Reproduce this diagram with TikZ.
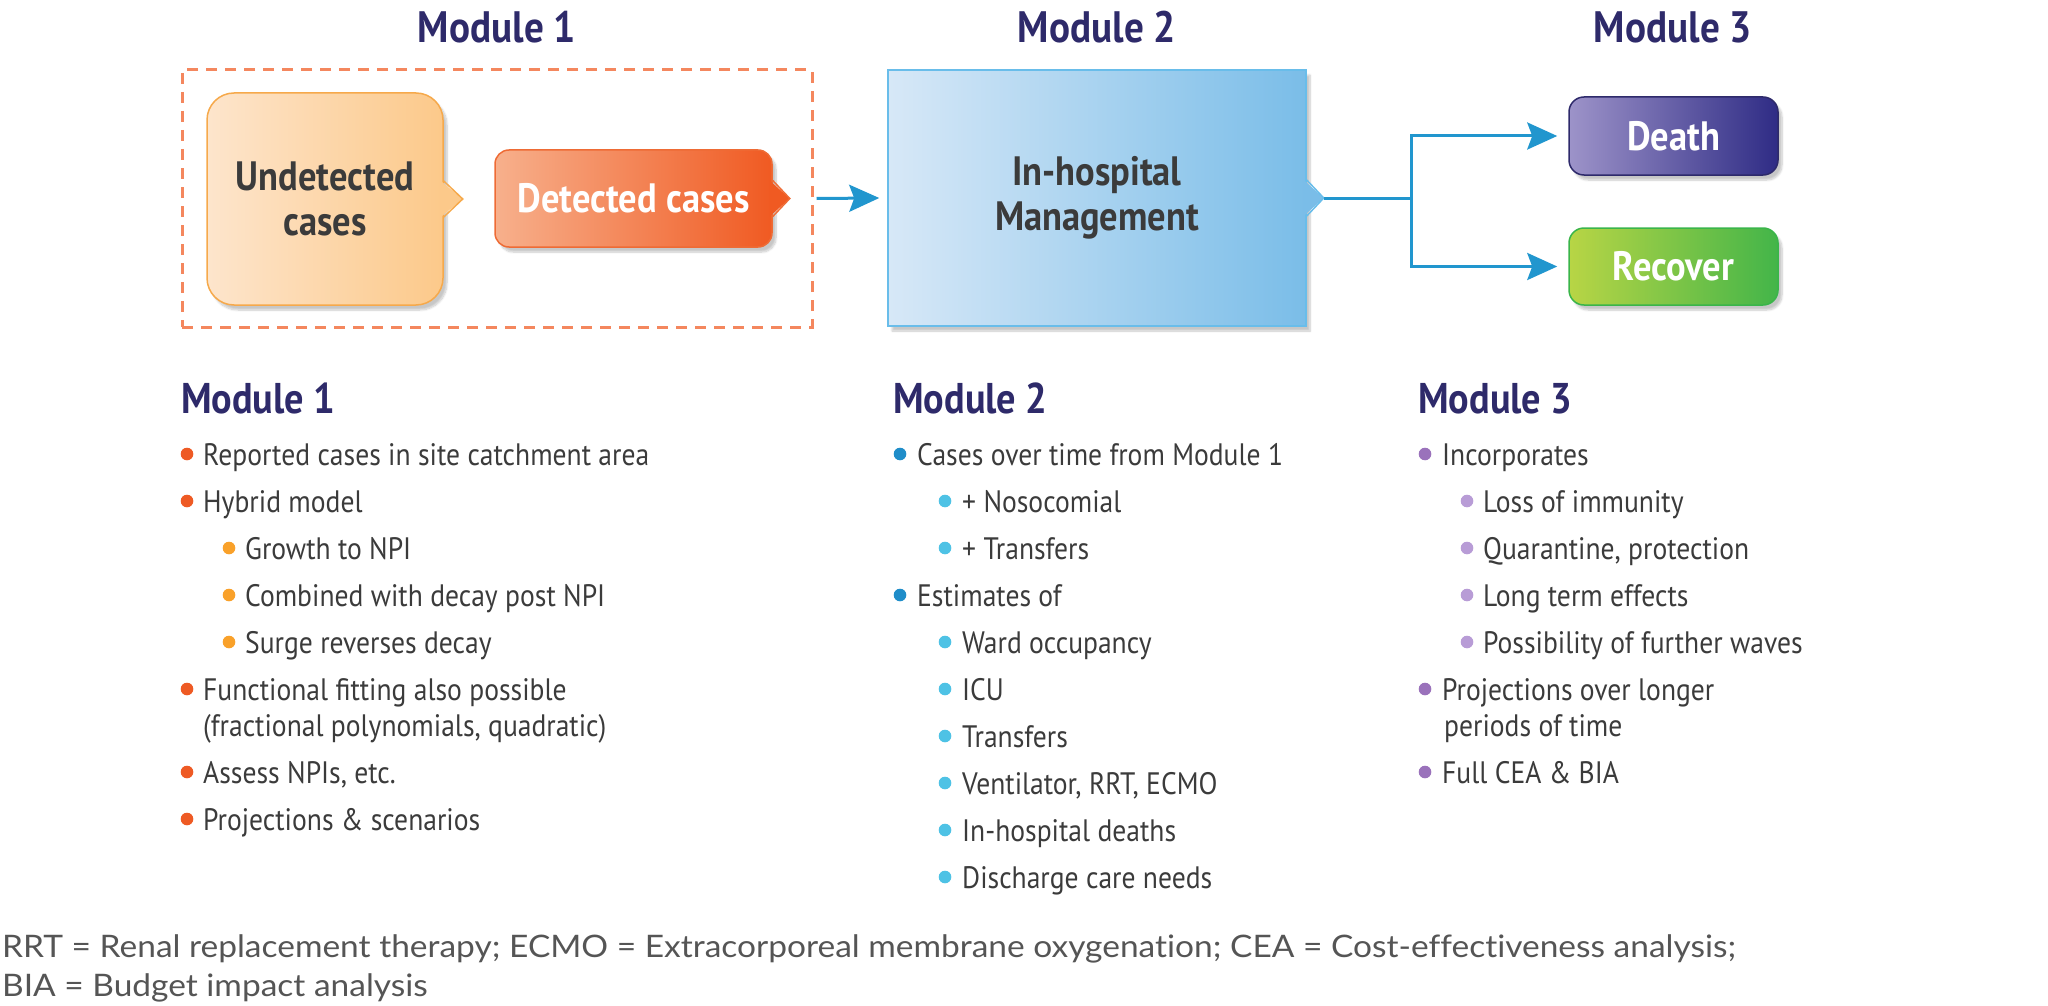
\documentclass[tikz,border=0pt]{standalone}
\usepackage{fontspec}
\setmainfont{PT Sans}[FakeStretch=0.89]
\newfontfamily\footfont{Lato}[FakeStretch=1.08, Ligatures=NoCommon]
\usetikzlibrary{arrows.meta,shadows.blur}

\definecolor{titlecol}{HTML}{2E2A6A}
\definecolor{txtcol}{HTML}{3B3B3B}
\definecolor{footcol}{HTML}{555555}
\definecolor{framecol}{HTML}{F4875E}
\definecolor{undL}{HTML}{FDE5CC}
\definecolor{undR}{HTML}{FCC98A}
\definecolor{undB}{HTML}{F6A94B}
\definecolor{detL}{HTML}{F7B08C}
\definecolor{detR}{HTML}{F05A22}
\definecolor{detB}{HTML}{EE6B35}
\definecolor{hosL}{HTML}{D7E8F7}
\definecolor{hosR}{HTML}{7ABDE8}
\definecolor{hosB}{HTML}{69BDEA}
\definecolor{arrcol}{HTML}{2196CE}
\definecolor{deaL}{HTML}{9D93C9}
\definecolor{deaR}{HTML}{2F2C85}
\definecolor{deaB}{HTML}{2E2A6B}
\definecolor{recL}{HTML}{B8D545}
\definecolor{recR}{HTML}{43B549}
\definecolor{recB}{HTML}{3AB54A}
\definecolor{mOneA}{HTML}{EE5A24}
\definecolor{mOneB}{HTML}{F9A12A}
\definecolor{mTwoA}{HTML}{1F8DC9}
\definecolor{mTwoB}{HTML}{4EC2E5}
\definecolor{mThrA}{HTML}{9A72BB}
\definecolor{mThrB}{HTML}{B89CD6}

\newcommand\bitem[6]{%
  \fill[#5] (#2,#4-11) circle[radius=6.3];
  \node[itemtxt] (#1) at (#3,#4) {#6};}

\begin{document}
\begin{tikzpicture}[x=1pt,y=-1pt,
  toptitle/.style={font=\fontsize{44}{44}\selectfont\bfseries, text=titlecol, anchor=base, inner sep=0},
  heading/.style={font=\fontsize{43}{43}\selectfont\bfseries, text=titlecol, anchor=base west, inner sep=0},
  itemtxt/.style={font=\fontsize{31}{37}\selectfont, text=txtcol, anchor=base west, inner sep=0},
  boxtxt/.style={font=\fontsize{41}{45}\selectfont\bfseries, align=center, inner sep=0},
  shad/.style={blur shadow={shadow xshift=4pt, shadow yshift=-5pt, shadow blur steps=8, shadow opacity=22}},
  conn/.style={draw=arrcol, line width=3pt},
  arr/.style={conn, -{Stealth[length=30pt,width=27pt,inset=5pt]}}
]
\useasboundingbox (0,0) rectangle (2048,1006);

% top titles
\node[toptitle] (t1) at (497,43) {Module 1};
\node[toptitle] (t2) at (1097,43) {Module 2};
\node[toptitle] (t3) at (1673,43) {Module 3};

% dashed frame
\node[draw=framecol, line width=3pt, dash pattern=on 11pt off 8pt,
      minimum width=630pt, minimum height=257pt, inner sep=0] (frame) at (497,198.5) {};

% undetected
\node[shad, left color=undL, right color=undR, draw=undB, line width=1.5pt,
      rounded corners=27pt, minimum width=236pt, minimum height=212pt,
      boxtxt, text=txtcol] (und) at (325,199) {Undetected\\cases};
\fill[undR] ([shift={(-3,-18)}]und.east) -- ([shift={(19,0)}]und.east) -- ([shift={(-3,18)}]und.east) -- cycle;
\draw[undB, line width=1.5pt] ([shift={(0,-18)}]und.east) -- ([shift={(19,0)}]und.east) -- ([shift={(0,18)}]und.east);

% detected
\node[shad, left color=detL, right color=detR, draw=detB, line width=1.5pt,
      rounded corners=14pt, minimum width=277pt, minimum height=97pt,
      boxtxt, text=white] (det) at (633.5,198.5) {Detected cases};
\fill[detR] ([shift={(-3,-18)}]det.east) -- ([shift={(17,0)}]det.east) -- ([shift={(-3,18)}]det.east) -- cycle;
\draw[detB, line width=1.5pt] ([shift={(0,-18)}]det.east) -- ([shift={(17,0)}]det.east) -- ([shift={(0,18)}]det.east);

% hospital
\node[shad, left color=hosL, right color=hosR, draw=hosB, line width=1.5pt,
      minimum width=418pt, minimum height=256pt,
      boxtxt, text=txtcol] (hosp) at (1097,198) {In-hospital\\Management};
\fill[hosR] ([shift={(-3,-18)}]hosp.east) -- ([shift={(17,0)}]hosp.east) -- ([shift={(-3,18)}]hosp.east) -- cycle;
\draw[hosB, line width=1.5pt] ([shift={(0,-18)}]hosp.east) -- ([shift={(17,0)}]hosp.east) -- ([shift={(0,18)}]hosp.east);
\coordinate (hosptip) at ([xshift=17pt]hosp.east);

% outcome boxes
\node[shad, left color=deaL, right color=deaR, draw=deaB, line width=1.5pt,
      rounded corners=15pt, minimum width=209pt, minimum height=78pt,
      boxtxt, text=white] (death) at (1673.5,136) {Death};
\node[shad, left color=recL, right color=recR, draw=recB, line width=1.5pt,
      rounded corners=15pt, minimum width=209pt, minimum height=77pt,
      boxtxt, text=white] (recov) at (1673.5,266.5) {Recover};

% connectors
\draw[arr] ([xshift=3pt]frame.east) -- ([xshift=-8pt]hosp.west);
\coordinate (jn) at (1411,198);
\draw[conn] (hosptip) -- (jn);
\draw[arr] (jn) |- ([xshift=-11pt]death.west);
\draw[arr] (jn) |- ([xshift=-11pt]recov.west);

% Module 1 list
\node[heading] (h1) at (181,413) {Module 1};
\bitem{a1}{187}{203}{465}{mOneA}{Reported cases in site catchment area}
\bitem{a2}{187}{203}{512}{mOneA}{Hybrid model}
\bitem{a3}{229}{245}{559}{mOneB}{Growth to NPI}
\bitem{a4}{229}{245}{606}{mOneB}{Combined with decay post NPI}
\bitem{a5}{229}{245}{653}{mOneB}{Surge reverses decay}
\bitem{a6}{187}{203}{700}{mOneA}{Functional fitting also possible}
\node[itemtxt] (a6b) at (203,736) {(fractional polynomials, quadratic)};
\bitem{a7}{187}{203}{783}{mOneA}{Assess NPIs, etc.}
\bitem{a8}{187}{203}{830}{mOneA}{Projections \& scenarios}

% Module 2 list
\node[heading] (h2) at (893,413) {Module 2};
\bitem{b1}{900}{917}{465}{mTwoA}{Cases over time from Module 1}
\bitem{b2}{945}{962}{512}{mTwoB}{+ Nosocomial}
\bitem{b3}{945}{962}{559}{mTwoB}{+ Transfers}
\bitem{b4}{900}{917}{606}{mTwoA}{Estimates of}
\bitem{b5}{945}{962}{653}{mTwoB}{Ward occupancy}
\bitem{b6}{945}{962}{700}{mTwoB}{ICU}
\bitem{b7}{945}{962}{747}{mTwoB}{Transfers}
\bitem{b8}{945}{962}{794}{mTwoB}{Ventilator, RRT, ECMO}
\bitem{b9}{945}{962}{841}{mTwoB}{In-hospital deaths}
\bitem{b10}{945}{962}{888}{mTwoB}{Discharge care needs}

% Module 3 list
\node[heading] (h3) at (1418,413) {Module 3};
\bitem{c1}{1425}{1442}{465}{mThrA}{Incorporates}
\bitem{c2}{1467}{1483}{512}{mThrB}{Loss of immunity}
\bitem{c3}{1467}{1483}{559}{mThrB}{Quarantine, protection}
\bitem{c4}{1467}{1483}{606}{mThrB}{Long term effects}
\bitem{c5}{1467}{1483}{653}{mThrB}{Possibility of further waves}
\bitem{c6}{1425}{1442}{700}{mThrA}{Projections over longer}
\node[itemtxt] (c6b) at (1444,736) {periods of time};
\bitem{c7}{1425}{1442}{783}{mThrA}{Full CEA \& BIA}

% footnote
\node[font=\footfont\fontsize{31}{37}\selectfont, text=footcol, anchor=base west, inner sep=0] (fn1) at (2,957)
  {RRT = Renal replacement therapy; ECMO = Extracorporeal membrane oxygenation; CEA = Cost-effectiveness analysis;};
\node[font=\footfont\fontsize{31}{37}\selectfont, text=footcol, anchor=base west, inner sep=0] (fn2) at (2,996)
  {BIA = Budget impact analysis};
\end{tikzpicture}
\end{document}
